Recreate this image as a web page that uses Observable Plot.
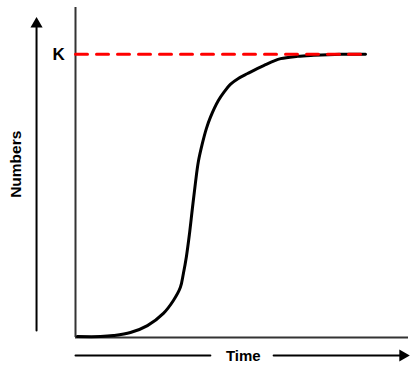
<!DOCTYPE html>
<html><head><meta charset="utf-8">
<script src="https://cdn.jsdelivr.net/npm/d3@7"></script>
<script src="https://cdn.jsdelivr.net/npm/@observablehq/plot@0.6"></script>
<style>body{margin:0;background:#fff}</style>
</head><body><div id="chart"></div>
<script>
// Logistic growth curve (arbitrary units: time 0..100, numbers 0..100)
const time    = [0.6, 7.5, 11.4, 16.5, 21.6, 26.4, 29.4, 31.5, 32.4, 33.3, 34.2, 35.1, 36.0, 36.9, 38.1, 39.3, 40.5, 42.9, 44.7, 46.5, 48.9, 51.7, 56.5, 61.6, 66.7, 71.5, 79.6, 87.1];
const numbers = [0.3, 0.3, 0.6, 1.5, 3.6, 7.3, 11.2, 15.2, 19.4, 24.5, 31.2, 39.1, 46.7, 53.3, 58.8, 63.3, 66.7, 71.8, 74.5, 76.7, 78.5, 80.0, 82.4, 84.5, 85.2, 85.5, 85.8, 85.8];
const K = 85.8;           // carrying capacity
const kEnd = 87.1;        // where the dashed K line ends
// decorative axis arrows (data units, outside the frame)
const yArrowX = -11.7, yArrowFrom = 2.1, yArrowTo = 95;
const xArrowY = -5.45;
const xArrowSegs = [[0, 40.5], [59.5, 97.5]];
const xArrowTip = 98.3;
const kLabel = {x: -5.1, y: 85.8, text: "K"};
const yLabel = {x: -18, y: 52.5, text: "Numbers"};
const xLabel = {x: 50.4, y: -5.8, text: "Time"};

const curve = time.map((t, i) => ({t, n: numbers[i]}));
const font = "Liberation Sans, Arial, sans-serif";

const chart = Plot.plot({
  width: 417, height: 368,
  marginLeft: 75, marginRight: 9, marginTop: 7, marginBottom: 31,
  x: {domain: [0, 100], axis: null},
  y: {domain: [0, 100], axis: null},
  marks: [
    Plot.ruleX([0], {stroke: "#333", strokeWidth: 2}),
    Plot.ruleY([0], {stroke: "#333", strokeWidth: 2}),
    Plot.line(curve, {x: "t", y: "n", curve: "catmull-rom", stroke: "#000", strokeWidth: 3}),
    Plot.line([{x: 0, y: K}, {x: kEnd, y: K}], {x: "x", y: "y", stroke: "#ff0000", strokeWidth: 3, strokeDasharray: "12,9"}),
    // y arrow
    Plot.line([{x: yArrowX, y: yArrowFrom}, {x: yArrowX, y: yArrowTo}], {x: "x", y: "y", stroke: "#000", strokeWidth: 2}),
    Plot.dot([{x: yArrowX, y: yArrowTo}], {x: "x", y: "y", symbol: "triangle", r: 4.5, fill: "#000", stroke: null}),
    // x arrow
    ...xArrowSegs.map(([a, b]) => Plot.line([{x: a, y: xArrowY}, {x: b, y: xArrowY}], {x: "x", y: "y", stroke: "#000", strokeWidth: 2})),
    Plot.dot([{x: xArrowTip, y: xArrowY}], {x: "x", y: "y", symbol: "triangle", rotate: 90, r: 4.5, fill: "#000", stroke: null}),
    Plot.text([kLabel], {x: "x", y: "y", text: "text", fontSize: 17, fontWeight: "bold", fontFamily: font, fill: "#000"}),
    Plot.text([yLabel], {x: "x", y: "y", text: "text", fontSize: 15.5, rotate: -90, fontWeight: "bold", fontFamily: font, fill: "#000"}),
    Plot.text([xLabel], {x: "x", y: "y", text: "text", fontSize: 15, fontWeight: "bold", fontFamily: font, fill: "#000"})
  ]
});
document.getElementById("chart").append(chart);
</script>
</body></html>
